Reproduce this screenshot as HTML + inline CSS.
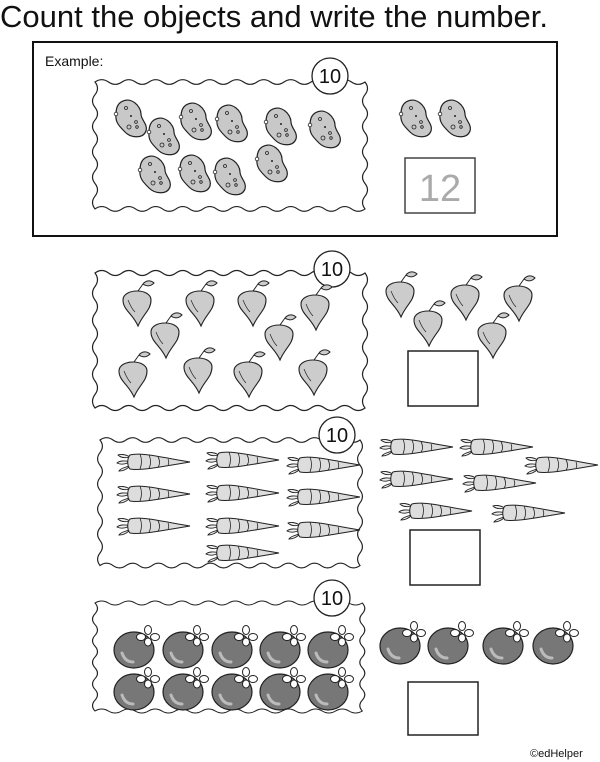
<!DOCTYPE html>
<html><head><meta charset="utf-8"><style>
html,body{margin:0;padding:0;background:#fff;width:600px;height:762px;overflow:hidden}
svg{display:block}
text{font-family:"Liberation Sans",sans-serif}
</style></head><body>
<svg width="600" height="762" viewBox="0 0 600 762" xmlns="http://www.w3.org/2000/svg">
<defs>
<path id="fr" fill="#fff" stroke="#222" stroke-width="1.2" d="M0,0 q6.75,-5 13.5,0 t13.5,0 t13.5,0 t13.5,0 t13.5,0 t13.5,0 t13.5,0 t13.5,0 t13.5,0 t13.5,0 t13.5,0 t13.5,0 t13.5,0 t13.5,0 t13.5,0 t13.5,0 t13.5,0 t13.5,0 t13.5,0 t13.5,0 q5,6.75 0,13.5 t0,13.5 t0,13.5 t0,13.5 t0,13.5 t0,13.5 t0,13.5 t0,13.5 t0,13.5 t0,13.5 q-6.75,5 -13.5,0 t-13.5,0 t-13.5,0 t-13.5,0 t-13.5,0 t-13.5,0 t-13.5,0 t-13.5,0 t-13.5,0 t-13.5,0 t-13.5,0 t-13.5,0 t-13.5,0 t-13.5,0 t-13.5,0 t-13.5,0 t-13.5,0 t-13.5,0 t-13.5,0 t-13.5,0 q-5,-6.75 0,-13.5 t0,-13.5 t0,-13.5 t0,-13.5 t0,-13.5 t0,-13.5 t0,-13.5 t0,-13.5 t0,-13.5 t0,-13.5 Z"/>
<g id="p">
<path d="M-10,-16 C0,-22 10,-12 10,-4 C10,2 17,6 15,13 C12,21 0,20 -6,14 C-12,8 -16,4 -15,-4 C-15,-10 -13,-14 -10,-16Z" fill="#c8c8c8" stroke="#222" stroke-width="1.2"/>
<circle cx="-15" cy="-4" r="1.8" fill="#fff" stroke="#222" stroke-width=".8"/>
<circle cx="-5" cy="-10" r="1.5" fill="none" stroke="#222" stroke-width=".8"/>
<circle cx="0" cy="-2" r="1" fill="#222"/>
<circle cx="5" cy="4" r="1.4" fill="none" stroke="#222" stroke-width=".8"/>
<circle cx="-2" cy="9" r="2" fill="none" stroke="#222" stroke-width=".8"/>
<circle cx="6" cy="9" r="1.3" fill="none" stroke="#222" stroke-width=".8"/>
</g>
<g id="b">
<path d="M1,-11 L6,-18 M6,-18 c3,-4 8,-4 11,-1 c-3,3 -7,4 -11,1" fill="#ccc" stroke="#222" stroke-width="1"/>
<path d="M-14,-2 C-14,-14 14,-14 14,-2 C14,8 6,12 1,24 C-4,12 -14,8 -14,-2Z" fill="#ccc" stroke="#222" stroke-width="1.1"/>
<path d="M-9,-2 c2,5 4,9 7,12" fill="none" stroke="#222" stroke-width=".7"/>
</g>
<g id="c">
<path d="M0,-5 c-5,-3 -10,-3 -12,-2 c3,3 8,3 12,2 M0,0 c-5,-2 -11,-1 -13,1 c4,2 9,1 13,-1 M0,4 c-5,1 -10,3 -11,5 c4,0 8,-2 11,-5" fill="#eee" stroke="#222" stroke-width=".9"/>
<path d="M0,-7 C10,-10 30,-5 60,0 C30,5 10,9 0,7 C-3,4 -3,-4 0,-7Z" fill="#ddd" stroke="#222" stroke-width="1"/>
<path d="M10,-8 c2,5 2,10 0,15 M19,-7 c2,4 2,10 0,13 M28,-5 c2,3 2,8 0,10 M38,-3 c1,2 1,5 0,6" fill="none" stroke="#222" stroke-width=".8"/>
</g>
<g id="t">
<ellipse rx="20" ry="18" fill="#777" stroke="#222" stroke-width="1.2"/>
<path d="M-12,3 c2,6 6,9 11,9" fill="none" stroke="#bbb" stroke-width="3" stroke-linecap="round"/>
<g fill="#fff" stroke="#222" stroke-width="1">
<ellipse cx="14" cy="-20" rx="3.5" ry="4.5"/>
<ellipse cx="21" cy="-13" rx="4.5" ry="3.5"/>
<ellipse cx="14" cy="-8" rx="3.5" ry="4"/>
<ellipse cx="7" cy="-13" rx="4.5" ry="3.5"/>
</g>
</g>
</defs>

<text x="0" y="27" font-size="31" fill="#111">Count the objects and write the number.</text>

<rect x="33" y="42" width="524" height="194" fill="none" stroke="#111" stroke-width="2"/>
<text x="45" y="66" font-size="14" fill="#111">Example:</text>

<use href="#fr" transform="translate(95,82) scale(1,0.94)"/>
<use href="#fr" transform="translate(95,273)"/>
<use href="#fr" transform="translate(100,440) scale(0.963,0.93)"/>
<use href="#fr" transform="translate(95,603) scale(0.99,0.8)"/>

<g fill="#fff" stroke="#222" stroke-width="1.3">
<circle cx="330" cy="76" r="18"/><circle cx="332" cy="269" r="18"/>
<circle cx="337" cy="435" r="18"/><circle cx="332" cy="598" r="18"/>
</g>
<g font-size="20" fill="#111" text-anchor="middle">
<text x="330" y="83">10</text><text x="332" y="276">10</text>
<text x="337" y="442">10</text><text x="332" y="605">10</text>
</g>

<g>
<use href="#p" x="131" y="118"/><use href="#p" x="164" y="136"/><use href="#p" x="196" y="121"/><use href="#p" x="232" y="123"/><use href="#p" x="281" y="126"/><use href="#p" x="325" y="129"/>
<use href="#p" x="155" y="174"/><use href="#p" x="195" y="173"/><use href="#p" x="230" y="176"/><use href="#p" x="272" y="163"/>
<use href="#p" x="416" y="118"/><use href="#p" x="455" y="118"/>
</g>
<rect x="405" y="158" width="70" height="55" fill="#fff" stroke="#444" stroke-width="1.5"/>
<text x="440" y="201" font-size="38" fill="#aaa" text-anchor="middle">12</text>

<g>
<use href="#b" x="137" y="302"/><use href="#b" x="200" y="302"/><use href="#b" x="252" y="302"/><use href="#b" x="315" y="306"/>
<use href="#b" x="165" y="334"/><use href="#b" x="279" y="336"/>
<use href="#b" x="133" y="373"/><use href="#b" x="198" y="369"/><use href="#b" x="248" y="373"/><use href="#b" x="313" y="371"/>
<use href="#b" x="400" y="293"/><use href="#b" x="465" y="296"/><use href="#b" x="518" y="297"/><use href="#b" x="428" y="322"/><use href="#b" x="492" y="334"/>
</g>
<rect x="408" y="351" width="70" height="55" fill="#fff" stroke="#222" stroke-width="1.5"/>

<g>
<use href="#c" x="130" y="462"/><use href="#c" x="130" y="494"/><use href="#c" x="130" y="526"/>
<use href="#c" x="219" y="460"/><use href="#c" x="219" y="493"/><use href="#c" x="219" y="526"/><use href="#c" x="219" y="553"/>
<use href="#c" x="300" y="465"/><use href="#c" x="300" y="497"/><use href="#c" x="300" y="530"/>
<use href="#c" x="393" y="447"/><use href="#c" x="473" y="447"/><use href="#c" x="538" y="465"/>
<use href="#c" x="393" y="479"/><use href="#c" x="476" y="483"/><use href="#c" x="412" y="511"/><use href="#c" x="505" y="513"/>
</g>
<rect x="410" y="530" width="70" height="55" fill="#fff" stroke="#222" stroke-width="1.5"/>

<g>
<use href="#t" x="134" y="650"/><use href="#t" x="183" y="650"/><use href="#t" x="232" y="650"/><use href="#t" x="280" y="650"/><use href="#t" x="328" y="650"/>
<use href="#t" x="134" y="692"/><use href="#t" x="183" y="692"/><use href="#t" x="232" y="692"/><use href="#t" x="280" y="692"/><use href="#t" x="328" y="692"/>
<use href="#t" x="400" y="646"/><use href="#t" x="448" y="646"/><use href="#t" x="503" y="646"/><use href="#t" x="553" y="646"/>
</g>
<rect x="408" y="682" width="70" height="53" fill="#fff" stroke="#222" stroke-width="1.5"/>

<text x="530" y="757" font-size="11" fill="#111">©edHelper</text>
</svg>
</body></html>
